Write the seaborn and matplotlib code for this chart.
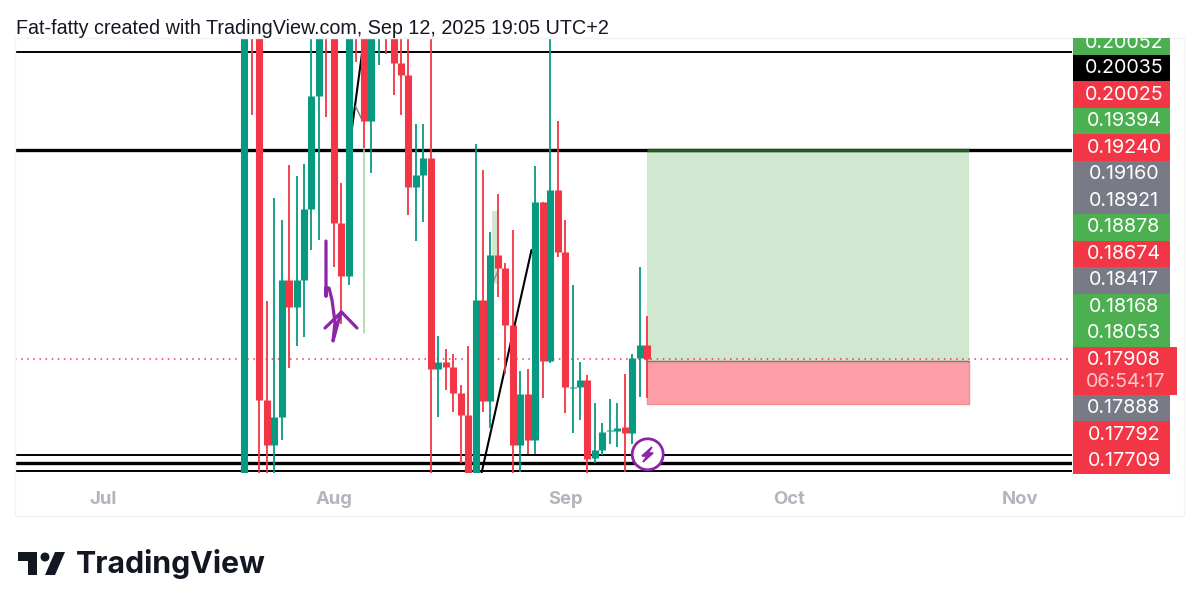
# -*- coding: utf-8 -*-
import pandas as pd
import matplotlib
matplotlib.use("Agg")
import matplotlib.pyplot as plt
import seaborn as sns
from matplotlib.patches import Rectangle, Circle, Polygon
from matplotlib.transforms import Affine2D

# ---------------------------------------------------------------------
# data (daily candles, values above/below the pane are estimates)
# ---------------------------------------------------------------------
opens = [.17181, .20300, .20150, .17647, .17360, .17540, .18411, .18241, .18411, .18864,
         .19586, .20200, .20020, .18777, .18437, .20300, .20100, .19427, .20000, .20200,
         .20050, .19794, .19718, .19006, .19081, .19189, .17844, .17889, .17857, .17693,
         .17551, .17181, .18284, .17640, .18571, .18488, .18125, .17360, .17685, .17392,
         .18910, .17897, .18985, .18592, .17726, .17731, .17774, .17277, .17328, .17449,
         .17451, .17475, .17438, .17914, .17997]
highs = [.20200, .20350, .20300, .18280, .18934, .18794, .19144, .19076, .19151, .20100,
         .20150, .20250, .20150, .19032, .20200, .20350, .20200, .20100, .20150, .20250,
         .20100, .20000, .20000, .19406, .19406, .20000, .18055, .17972, .17940, .17742,
         .17993, .19278, .19112, .18719, .18960, .18522, .18730, .17833, .17844, .19140,
         .18910, .20000, .19427, .18794, .18380, .17891, .17806, .17628, .17500, .17653,
         .17628, .17812, .17940, .18496, .18182]
lows = [.17181, .19463, .17181, .17181, .17181, .17392, .17851, .17993, .18050, .18603,
        .18666, .19452, .18494, .18131, .18380, .19801, .19253, .19095, .19782, .19852,
        .19590, .19463, .18826, .18662, .18781, .17181, .17540, .17710, .17570, .17247,
        .17181, .17181, .17570, .17468, .18305, .17812, .17181, .17190, .17303, .17303,
        .17661, .17884, .18558, .17566, .17438, .17519, .17181, .17245, .17296, .17366,
        .17349, .17190, .17366, .17668, .17659]
closes = [.20100, .20150, .17647, .17360, .17540, .18411, .18241, .18411, .18864, .19586,
          .20050, .20020, .18777, .18437, .20100, .20100, .19427, .20000, .20100, .20050,
          .19794, .19718, .19006, .19081, .19189, .17844, .17889, .17857, .17693, .17551,
          .17181, .18284, .17640, .18571, .18488, .18125, .17360, .17685, .17392, .18910,
          .17897, .18985, .18592, .17728, .17731, .17774, .17271, .17328, .17443, .17456,
          .17468, .17438, .17914, .17997, .17908]

month_ticks = [-19, 12, 43, 73, 104]
month_labels = ["Jul", "Aug", "Sep", "Oct", "Nov"]

level_lines = [.19864, .19240, .17296, .17243, .17196]
level_widths = [1.4, 2.4, 1.4, 2.4, 1.4]

last_price = .17908
entry_price = .17897
target_price = .19240
stop_price = .17621
tool_start, tool_end = 54, 97.2

price_tags = ["0.20035", "0.20025", "0.19394", "0.19240", "0.19160", "0.18921", "0.18878",
              "0.18674", "0.18417", "0.18168", "0.18053"]
tag_colors = ["#000000", "#F23645", "#4CAF50", "#F23645", "#787B86", "#787B86", "#4CAF50",
              "#F23645", "#787B86", "#4CAF50", "#4CAF50"]
lower_tags = ["0.17888", "0.17792", "0.17709"]
lower_colors = ["#787B86", "#F23645", "#F23645"]

GREEN = "#089981"
RED = "#F23645"
PURPLE = "#8E24AA"
FONT = ["Inter", "DejaVu Sans"]

# ---------------------------------------------------------------------
# frame
# ---------------------------------------------------------------------
sns.set_theme(style="white")
plt.rcParams["font.family"] = FONT

W, H = 1200, 611
fig = plt.figure(figsize=(W / 100, H / 100), dpi=100, facecolor="white")
ax = fig.add_axes([15 / W, 1 - 473 / H, (1072 - 15) / W, (473 - 38) / H])
ax.set_facecolor("white")
ax.set_xlim(-30.74, 110.95)
ax.set_ylim(.17181, .19954)

# figure in pixels, y going down like the screenshot
px = Affine2D().scale(1, -1).translate(0, H)

fig.add_artist(Rectangle((15, 38), 1169, 478, fill=False, ec="#F0F3FA", lw=1, transform=px))

# ---------------------------------------------------------------------
# drawings under the candles
# ---------------------------------------------------------------------
ax.fill_between([tool_start, tool_end], entry_price, target_price, fc="#CFE8CF", ec="none", zorder=1)
ax.fill_between([tool_start, tool_end], stop_price, entry_price, fc="#FD9DA6", ec="#F88A94", lw=1, zorder=1)
ax.plot([tool_start, tool_end], [entry_price, entry_price], color="#787B86", lw=1, zorder=1.5)

for lvl, lw in zip(level_lines, level_widths):
    ax.axhline(lvl, color="black", lw=lw, zorder=1.6, solid_capstyle="butt")
ax.plot([tool_start, tool_end], [target_price, target_price], color="#1E5B1E", lw=2.4, zorder=1.7,
        solid_capstyle="butt")

ax.axhline(last_price, color=RED, lw=1.1, ls=(0, (1, 3)), zorder=1.6)

# trend line pieces and the thin green line
ax.plot([31.8, 38.5], [.17181, .18603], color="black", lw=1.5, zorder=1.8)
ax.plot([14.4, 16.05], [.19367, .19954], color="black", lw=1.5, zorder=1.8)
ax.plot([16, 16], [.19240, .18074], color="#A5D6A7", lw=1.2, zorder=1.8)
ax.fill_between([33.2, 34.2], .18387, .18850, fc="#CFE8CF", ec="none", zorder=1.5)
ax.plot([14.9, 15.7], [.19520, .19440], color="#787B86", lw=1, zorder=1.8)
ax.plot([32.6, 33.3, 34], [.18470, .18390, .18470], color="#9598A1", lw=1.1, zorder=1.8)

# ---------------------------------------------------------------------
# candles
# ---------------------------------------------------------------------
candles = pd.DataFrame({"day": range(len(opens)), "open": opens, "high": highs, "low": lows, "close": closes})
candles["side"] = ["up" if c >= o else "down" for o, c in zip(opens, closes)]
palette = {"up": GREEN, "down": RED}

wicks = candles.melt(id_vars=["day", "side"], value_vars=["low", "high"], value_name="price")
bodies = candles.melt(id_vars=["day", "side"], value_vars=["open", "close"], value_name="price")

sns.lineplot(data=wicks, x="day", y="price", hue="side", units="day", estimator=None, palette=palette,
             lw=1.3, solid_capstyle="butt", legend=False, ax=ax, zorder=3)
sns.lineplot(data=bodies, x="day", y="price", hue="side", units="day", estimator=None, palette=palette,
             lw=5.1, solid_capstyle="butt", legend=False, ax=ax, zorder=4)

ax.set_xlabel("")
ax.set_ylabel("")
ax.set_xticks(month_ticks)
ax.set_xticklabels(month_labels, fontsize=13.3, fontweight="bold", color="#B2B5BE")
ax.set_yticks([])
ax.tick_params(axis="x", length=0, pad=13)
for s in ax.spines.values():
    s.set_visible(False)

# ---------------------------------------------------------------------
# hand drawn arrow and the lightning badge, in screen pixels
# ---------------------------------------------------------------------
scribble = [(326, 241), (326, 296), (326, 288), (329, 288), (332, 300), (335, 322), (333, 341), (341, 312)]
arrow = [(325, 328), (341.5, 312), (357, 328)]
for pts in (scribble, arrow):
    fig.add_artist(plt.Line2D([p[0] for p in pts], [p[1] for p in pts], color=PURPLE, lw=2.3,
                              transform=px, zorder=6, solid_capstyle="round"))

fig.add_artist(Circle((647.7, 454.3), 15.5, fc="white", ec=PURPLE, lw=2, transform=px, zorder=7))
fig.add_artist(Polygon([(652, 447), (642, 456), (647, 456), (643, 462), (653, 453), (648, 453)],
                       closed=True, fc=PURPLE, ec=PURPLE, lw=1.2, transform=px, zorder=8))

# ---------------------------------------------------------------------
# price scale tags
# ---------------------------------------------------------------------
def add_tag(top, height, color, width=97):
    box = Rectangle((1073, top), width, height, fc=color, ec="none", transform=px, zorder=5)
    fig.add_artist(box)
    return box

TAG_H = 26.55
TAG_SIZE = 14.2
top_box = add_tag(38, 16.5, "#4CAF50")
t = fig.text(1124 / W, 1 - 42.5 / H, "0.20052", color="white", fontsize=TAG_SIZE, ha="center", va="center", zorder=6)
t.set_clip_path(top_box)

for k, (label, col) in enumerate(zip(price_tags, tag_colors)):
    top = 54.7 + k * TAG_H
    add_tag(top, TAG_H, col)
    fig.text(1124 / W, 1 - (top + TAG_H / 2) / H, label, color="white", fontsize=TAG_SIZE, ha="center", va="center", zorder=6)

add_tag(346.5, 48, RED, width=104)
fig.text(1124 / W, 1 - 360 / H, "0.17908", color="white", fontsize=TAG_SIZE, ha="center", va="center", zorder=6)
fig.text(1126 / W, 1 - 382 / H, "06:54:17", color="#FBC9CE", fontsize=TAG_SIZE, ha="center", va="center", zorder=6)

for k, (label, col) in enumerate(zip(lower_tags, lower_colors)):
    top = 394.7 + k * TAG_H
    add_tag(top, TAG_H, col)
    fig.text(1124 / W, 1 - (top + TAG_H / 2) / H, label, color="white", fontsize=TAG_SIZE, ha="center", va="center", zorder=6)

# ---------------------------------------------------------------------
# header and logo
# ---------------------------------------------------------------------
fig.text(16 / W, 1 - 28 / H, "Fat-fatty created with TradingView.com, Sep 12, 2025 19:05 UTC+2",
         color="#131722", fontsize=14.2, family=["Liberation Sans", "DejaVu Sans"], ha="left", va="center")

fig.add_artist(Polygon([(18, 552), (37, 552), (37, 575), (28, 575), (28, 561), (18, 561)],
                       closed=True, fc="#131722", ec="none", transform=px))
fig.add_artist(Circle((45, 557), 4.5, fc="#131722", ec="none", transform=px))
fig.add_artist(Polygon([(55, 552), (65, 552), (55, 575), (45, 575)],
                       closed=True, fc="#131722", ec="none", transform=px))
fig.text(76 / W, 1 - 564 / H, "TradingView", color="#131722", fontsize=21.8, fontweight="bold",
         ha="left", va="center")

fig.savefig("out.png", dpi=100)
